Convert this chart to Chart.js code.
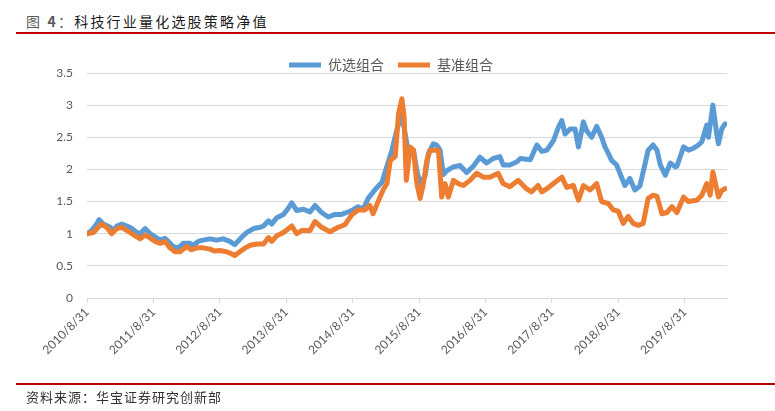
<!DOCTYPE html>
<html>
<head>
<meta charset="utf-8">
<script src="https://cdn.jsdelivr.net/npm/chart.js@4.4.1/dist/chart.umd.min.js"></script>
<style>
    body { margin: 0; background: #fff; width: 775px; height: 411px; overflow: hidden; position: relative; font-family: "Noto Sans CJK SC", sans-serif; }
    #chart { position: absolute; left: 0; top: 0; }
    .title { position: absolute; left: 26px; top: 11px; font-size: 14px; letter-spacing: 2.2px; color: #1a1a1a; line-height: 20px; }
    .title .no { color: #595959; }
    .rule { position: absolute; left: 16px; right: 0; height: 2px; background: #C00000; }
    .src { position: absolute; left: 26px; top: 388px; font-size: 13px; letter-spacing: 1px; color: #333; line-height: 18px; }
</style>
</head>
<body>
<div class="title"><span class="no">图 <b>4</b>：</span>科技行业量化选股策略净值</div>
<div class="rule" style="top:32px"></div>
<canvas id="chart" width="775" height="411"></canvas>
<div class="rule" style="top:383px"></div>
<div class="src">资料来源：华宝证券研究创新部</div>

<script>
// x values are months counted from 2010/8/31
const xTickLabels = ["2010/8/31", "2011/8/31", "2012/8/31", "2013/8/31", "2014/8/31",
    "2015/8/31", "2016/8/31", "2017/8/31", "2018/8/31", "2019/8/31"];
const seriesNames = ["优选组合", "基准组合"];

const youxuanMonths = [0, 0.85, 1.75, 2.2, 2.95, 4.2, 4.75, 5.4, 6.3, 7.2, 8.1, 9.0, 9.6, 10.5, 11.4,
    12.3, 13.2, 14.1, 14.7, 15.6, 16.5, 17.4, 18.6, 19.2, 20.1, 21.0, 22.2, 23.4, 24.6, 25.8, 26.7,
    28.0, 28.9, 30.1, 31.3, 31.9, 32.8, 33.4, 34.3, 35.5, 36.4, 37.0, 37.9, 39.1, 40.3, 41.2, 42.4,
    43.6, 44.8, 46.0, 46.9, 47.8, 49.0, 49.9, 50.8, 52.0, 53.3, 54.2, 55.1, 56.0, 56.9, 57.5, 58.1,
    58.5, 59.0, 59.6, 60.2, 61.1, 61.7, 62.6, 63.2, 63.8, 64.4, 65.0, 66.2, 67.4, 68.6, 69.8, 71.0,
    72.2, 73.4, 74.6, 75.2, 76.4, 77.7, 78.3, 80.1, 81.3, 82.2, 83.1, 84.3, 85.2, 85.8, 86.4, 87.3,
    88.2, 88.8, 89.7, 90.3, 91.2, 92.1, 93.0, 93.6, 94.2, 94.8, 95.7, 96.3, 97.2, 98.1, 99.0, 99.9,
    100.8, 101.4, 102.3, 103.0, 103.6, 104.5, 105.4, 106.3, 106.6, 107.8, 108.7, 109.6, 110.5, 111.1,
    112.0, 112.3, 113.1, 113.8, 114.1, 114.7, 115.3];
const youxuanValues = [1.0, 1.05, 1.15, 1.22, 1.15, 1.10, 1.05, 1.12, 1.15, 1.12, 1.08, 1.02, 1.0, 1.08, 1.0,
    0.95, 0.9, 0.93, 0.88, 0.8, 0.78, 0.85, 0.85, 0.82, 0.88, 0.9, 0.92, 0.9, 0.92, 0.88, 0.83,
    0.95, 1.02, 1.08, 1.1, 1.12, 1.2, 1.15, 1.25, 1.3, 1.4, 1.48, 1.36, 1.38, 1.34, 1.44, 1.33,
    1.26, 1.3, 1.3, 1.33, 1.36, 1.42, 1.38, 1.55, 1.68, 1.8, 2.05, 2.3, 2.62, 2.85, 2.55, 2.25,
    2.3, 2.3, 1.98, 1.78, 1.9, 2.25, 2.4, 2.38, 2.3, 1.92, 1.98, 2.04, 2.06, 1.95, 2.05, 2.19,
    2.1, 2.17, 2.2, 2.07, 2.07, 2.12, 2.17, 2.15, 2.38, 2.28, 2.3, 2.45, 2.66, 2.76, 2.55, 2.63,
    2.63, 2.35, 2.74, 2.6, 2.5, 2.67, 2.5, 2.35, 2.25, 2.14, 2.07, 1.94, 1.75, 1.86, 1.68, 1.74,
    2.07, 2.3, 2.38, 2.3, 2.07, 1.91, 2.1, 2.04, 2.05, 2.35, 2.3, 2.33, 2.38, 2.43,
    2.69, 2.5, 3.0, 2.55, 2.4, 2.63, 2.71];

const jizhunMonths = [0, 1.15, 2.05, 2.65, 3.55, 4.45, 5.4, 6.3, 7.2, 8.1, 9.0, 9.6, 10.5, 11.1,
    12.3, 13.2, 14.1, 15.0, 15.9, 16.8, 18.0, 18.9, 19.8, 21.0, 22.2, 23.1, 24.0, 25.2, 25.8, 26.7,
    27.6, 28.6, 29.5, 30.7, 31.9, 32.8, 33.4, 34.3, 35.5, 37.0, 37.9, 38.8, 40.3, 41.2, 42.4, 43.9,
    45.4, 46.6, 47.8, 49.0, 50.2, 51.1, 51.7, 52.6, 53.5, 54.2, 54.8, 55.7, 56.3, 56.9, 57.3, 57.7,
    58.4, 59.0, 59.6, 60.2, 60.8, 61.4, 62.0, 62.9, 63.5, 64.1, 64.7, 65.3, 66.2, 67.1, 68.0, 69.2,
    70.4, 71.6, 72.8, 74.3, 75.2, 76.4, 77.9, 79.4, 80.3, 81.5, 82.2, 83.1, 84.3, 85.8, 86.7, 87.9,
    88.8, 89.7, 90.9, 92.1, 93.0, 94.2, 95.1, 96.0, 96.9, 97.8, 98.7, 99.6, 100.5, 101.4, 102.3,
    103.0, 103.9, 104.8, 105.7, 106.6, 107.8, 108.7, 110.2, 111.1, 112.0, 112.6, 113.1, 114.1,
    114.7, 115.3];
const jizhunValues = [1.0, 1.02, 1.1, 1.15, 1.1, 1.0, 1.08, 1.1, 1.05, 1.0, 0.95, 0.92, 0.98, 0.95,
    0.88, 0.85, 0.88, 0.78, 0.72, 0.72, 0.8, 0.75, 0.78, 0.78, 0.76, 0.73, 0.74, 0.72, 0.7, 0.66,
    0.72, 0.78, 0.82, 0.84, 0.84, 0.94, 0.88, 0.97, 1.02, 1.12, 1.0, 1.05, 1.05, 1.19, 1.1, 1.03,
    1.1, 1.14, 1.29, 1.37, 1.37, 1.44, 1.31, 1.5, 1.68, 1.78, 2.14, 2.2, 2.87, 3.1, 2.82, 1.83,
    2.35, 2.3, 1.78, 1.55, 1.78, 2.14, 2.3, 2.3, 2.3, 1.57, 1.78, 1.57, 1.83, 1.78, 1.75, 1.83,
    1.94, 1.88, 1.88, 1.94, 1.78, 1.73, 1.83, 1.7, 1.65, 1.75, 1.65, 1.7, 1.78, 1.88, 1.72, 1.75,
    1.52, 1.75, 1.68, 1.78, 1.5, 1.47, 1.37, 1.35, 1.16, 1.27, 1.16, 1.13, 1.16, 1.55, 1.6,
    1.58, 1.31, 1.33, 1.42, 1.33, 1.57, 1.5, 1.52, 1.6, 1.78, 1.6, 1.96, 1.57,
    1.67, 1.7];

const toPoints = (xs, ys) => xs.map((x, i) => ({ x: x, y: ys[i] }));

const tickFont = { family: "Lato, 'Open Sans', sans-serif", size: 12 };

new Chart(document.getElementById("chart"), {
    type: "line",
    data: {
        datasets: [{
            label: seriesNames[0],
            data: toPoints(youxuanMonths, youxuanValues),
            borderColor: "#5B9BD5",
            backgroundColor: "#5B9BD5",
            borderWidth: 5,
            pointRadius: 0,
            borderJoinStyle: "round",
            borderCapStyle: "round",
            order: 2
        }, {
            label: seriesNames[1],
            data: toPoints(jizhunMonths, jizhunValues),
            borderColor: "#ED7D31",
            backgroundColor: "#ED7D31",
            borderWidth: 5,
            pointRadius: 0,
            borderJoinStyle: "round",
            borderCapStyle: "round",
            order: 1
        }]
    },
    options: {
        responsive: false,
        animation: false,
        layout: { padding: { left: 55, right: 48, top: 44, bottom: 0 } },
        plugins: {
            tooltip: { enabled: false },
            legend: {
                position: "top",
                maxHeight: 29,
                labels: {
                    usePointStyle: true,
                    pointStyle: "line",
                    pointStyleWidth: 32,
                    padding: 14,
                    color: "#595959",
                    font: { family: "'Noto Sans CJK SC', sans-serif", size: 14 },
                    sort: (a, b) => a.datasetIndex - b.datasetIndex
                }
            }
        },
        scales: {
            x: {
                type: "linear",
                min: 0,
                max: 115.65,
                afterFit: s => { s.height = 113; s.paddingLeft = 0; s.paddingRight = 0; },
                ticks: {
                    stepSize: 12,
                    autoSkip: false,
                    includeBounds: false,
                    minRotation: 45,
                    maxRotation: 45,
                    padding: 2,
                    color: "#595959",
                    font: tickFont,
                    callback: v => xTickLabels[v / 12] || ""
                },
                grid: { drawOnChartArea: false, drawTicks: true, tickLength: 5, color: "#D9D9D9" },
                border: { color: "#D9D9D9" }
            },
            y: {
                min: 0,
                max: 3.5,
                afterFit: s => { s.width = 32; s.paddingTop = 0; s.paddingBottom = 0; },
                ticks: {
                    stepSize: 0.5,
                    padding: 14,
                    color: "#595959",
                    font: tickFont,
                    callback: v => String(v)
                },
                grid: { color: "#D9D9D9", drawTicks: false },
                border: { display: false }
            }
        }
    }
});
</script>
</body>
</html>
